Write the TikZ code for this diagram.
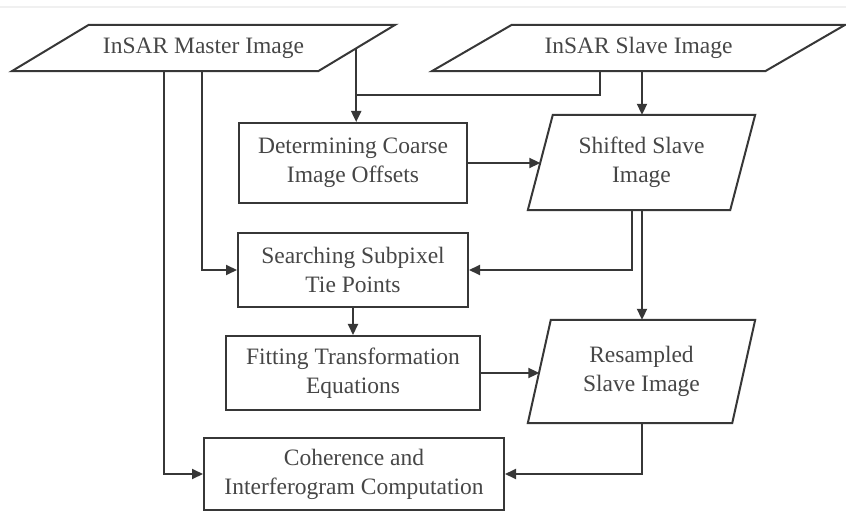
\documentclass[tikz,border=0pt]{standalone}
\usepackage{fontspec}
\setmainfont{Liberation Serif}
\newfontfamily\tnr{Liberation Serif}
\usetikzlibrary{calc,arrows.meta}
\definecolor{lncol}{RGB}{55,55,55}
\definecolor{txtcol}{RGB}{70,70,70}
\begin{document}
\begin{tikzpicture}[x=1bp,y=-1bp,
  ln/.style={draw=lncol,line width=2bp},
  conn/.style={lncol,line width=2bp},
  arr/.style={conn,-{Triangle[length=11bp,width=10bp]}},
  txt/.style={text=txtcol,font=\tnr\fontsize{23.5bp}{29bp}\selectfont,align=center,inner sep=0pt},
  boxnode/.style={txt,ln,rectangle},
  paranode/.style={txt,draw=none,rectangle}]
\useasboundingbox (0,0) rectangle (846,512);
\draw[gray!12,line width=1.5bp] (0,7) -- (846,7);
\newcommand\drawpara[2]{\draw[ln,line join=miter] (#1.south west) -- ($(#1.south east)-(#2,0)$) -- (#1.north east) -- ($(#1.north west)+(#2,0)$) -- cycle;}
% parallelograms
\node[paranode,minimum width=383bp,minimum height=46bp] (master) at (203.5,48) {InSAR Master Image};
\drawpara{master}{77}
\node[paranode,minimum width=413bp,minimum height=46bp] (slave) at (638.5,48) {InSAR Slave Image};
\drawpara{slave}{80}
\node[paranode,minimum width=227bp,minimum height=95bp] (shifted) at (641.5,162.5) {Shifted Slave\\Image};
\drawpara{shifted}{25}
\node[paranode,minimum width=227bp,minimum height=103bp] (res) at (641.5,371.5) {Resampled\\Slave Image};
\drawpara{res}{23}
% boxes
\node[boxnode,minimum width=228bp,minimum height=80bp] (det) at (353,163) {Determining Coarse\\Image Offsets};
\node[boxnode,minimum width=230bp,minimum height=74bp] (search) at (353,270) {Searching Subpixel\\Tie Points};
\node[boxnode,minimum width=254bp,minimum height=74bp] (fit) at (353,373) {Fitting Transformation\\Equations};
\node[boxnode,minimum width=300bp,minimum height=72bp] (coh) at (354,474) {Coherence and\\Interferogram Computation};
% edge coordinates
\coordinate (m1) at ($($(master.south east)-(77,0)$)!0.5!(master.north east)+(-0.5,0)$);
\coordinate (j) at (m1 |- 0,95);
\coordinate (s1) at ($(slave.south)+(-38.5,0)$);
\coordinate (shl) at ($(shifted.west)+(12.5,0)$);
\coordinate (resl) at ($(res.west)+(11.5,0)$);
\coordinate (sh1) at ($(shifted.south)+(0.5,0)$);
\coordinate (sh2) at ($(shifted.south)+(-9.5,0)$);
\coordinate (m2) at ($(master.south)+(-1.5,0)$);
\coordinate (m3) at ($(master.south)+(-39.5,0)$);
% connectors
\draw[arr] (m1) -- (m1 |- det.north);
\draw[conn] (s1) |- (j);
\draw[arr] (sh1 |- slave.south) -- (sh1 |- shifted.north);
\draw[arr] (det.east) -- (det.east -| shl);
\draw[arr] (sh2) |- (search.east);
\draw[arr] (sh1) -- (sh1 |- res.north);
\draw[arr] (m2) |- (search.west);
\draw[arr] (m3) |- (coh.west);
\draw[arr] (search.south) -- (search.south |- fit.north);
\draw[arr] (fit.east) -- (fit.east -| resl);
\draw[arr] (sh1 |- res.south) |- (coh.east);
\end{tikzpicture}
\end{document}
